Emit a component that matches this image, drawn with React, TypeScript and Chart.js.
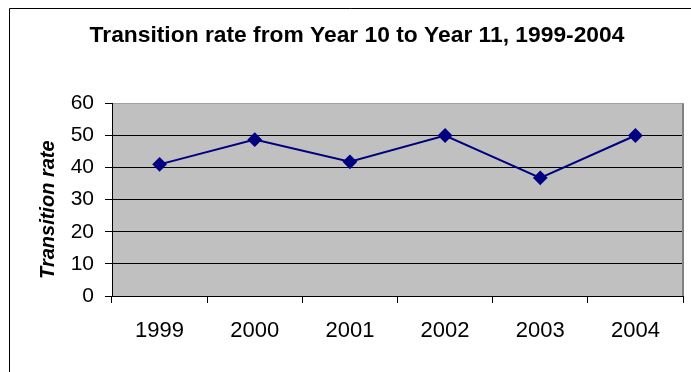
import React, { useEffect, useRef } from "react";
import { Chart, registerables } from "chart.js";

Chart.register(...registerables);

const years = ["1999", "2000", "2001", "2002", "2003", "2004"];
const transitionRate = [41, 48.7, 41.8, 50, 36.8, 50];
const chartTitle = "Transition rate from Year 10 to Year 11, 1999-2004";
const yAxisTitle = "Transition rate";
const yMin = 0;
const yMax = 60;
const yStep = 10;

const FONT = "Arial, 'Liberation Sans', sans-serif";

// Grey plot background, grey right edge, the partial frame round the chart,
// and the rotated value-axis title
const decorations = {
  id: "decorations",
  beforeDraw(chart: any) {
    const { ctx, chartArea } = chart;
    ctx.save();
    ctx.fillStyle = "#ffffff";
    ctx.fillRect(0, 0, chart.width, chart.height);
    ctx.fillStyle = "#c0c0c0";
    ctx.fillRect(chartArea.left, chartArea.top, chartArea.right - chartArea.left, chartArea.bottom - chartArea.top);
    ctx.strokeStyle = "#000000";
    ctx.lineWidth = 1;
    ctx.beginPath();
    ctx.moveTo(9.5, chart.height);
    ctx.lineTo(9.5, 8.5);
    ctx.lineTo(chart.width, 8.5);
    ctx.stroke();
    ctx.restore();
  },
  afterDraw(chart: any) {
    const { ctx, chartArea } = chart;
    ctx.save();
    ctx.strokeStyle = "#808080";
    ctx.lineWidth = 2;
    ctx.beginPath();
    ctx.moveTo(chartArea.right, chartArea.top);
    ctx.lineTo(chartArea.right, chartArea.bottom);
    ctx.stroke();

    ctx.translate(48, (chartArea.top + chartArea.bottom) / 2 + 10);
    ctx.rotate(-Math.PI / 2);
    ctx.fillStyle = "#000000";
    ctx.font = `italic bold 20px ${FONT}`;
    ctx.textAlign = "center";
    ctx.textBaseline = "middle";
    ctx.fillText(yAxisTitle, 0, 0);
    ctx.restore();
  },
};

export default function App() {
  const canvasRef = useRef<HTMLCanvasElement>(null);

  useEffect(() => {
    const canvas = canvasRef.current;
    if (!canvas) return;
    const chart = new Chart(canvas, {
      type: "line",
      data: {
        labels: years,
        datasets: [
          {
            data: transitionRate,
            borderColor: "#000080",
            backgroundColor: "#000080",
            borderWidth: 2,
            pointStyle: "rectRot",
            pointRadius: 6,
            pointHoverRadius: 6,
            pointBackgroundColor: "#000080",
            pointBorderColor: "#000080",
            tension: 0,
          },
        ],
      },
      options: {
        responsive: false,
        animation: false,
        events: [],
        layout: { padding: { left: 28, right: 5, top: 0, bottom: 0 } },
        plugins: {
          legend: { display: false },
          tooltip: { enabled: false },
          title: {
            display: true,
            text: chartTitle,
            color: "#000000",
            font: { family: FONT, size: 22.8, weight: "bold", lineHeight: 1.2 },
            padding: { top: 22, bottom: 54 },
          },
        },
        scales: {
          x: {
            type: "category",
            offset: true,
            afterFit(scale: any) {
              scale.height = 76;
            },
            grid: {
              offset: true,
              drawOnChartArea: false,
              drawTicks: true,
              tickLength: 7,
              color: "#000000",
              tickColor: "#000000",
            },
            border: { display: true, color: "#000000", width: 1 },
            ticks: {
              color: "#000000",
              padding: 15,
              maxRotation: 0,
              font: { family: FONT, size: 22 },
            },
          },
          y: {
            min: yMin,
            max: yMax,
            afterFit(scale: any) {
              scale.width = 84;
            },
            ticks: {
              stepSize: yStep,
              color: "#000000",
              padding: 11,
              font: { family: FONT, size: 21 },
            },
            grid: {
              drawTicks: true,
              tickLength: 7,
              color: (ctx: any) => (ctx.tick && ctx.tick.value === yMax ? "#a0a0a0" : "#000000"),
              tickColor: "#000000",
              lineWidth: 1,
            },
            border: { display: true, color: "#000000", width: 1 },
          },
        },
      },
      plugins: [decorations],
    });
    return () => chart.destroy();
  }, []);

  return (
    <div style={{ position: "absolute", left: 0, top: 0, width: 691, height: 372, background: "#ffffff" }}>
      <canvas ref={canvasRef} width={691} height={372} style={{ display: "block" }} />
    </div>
  );
}
